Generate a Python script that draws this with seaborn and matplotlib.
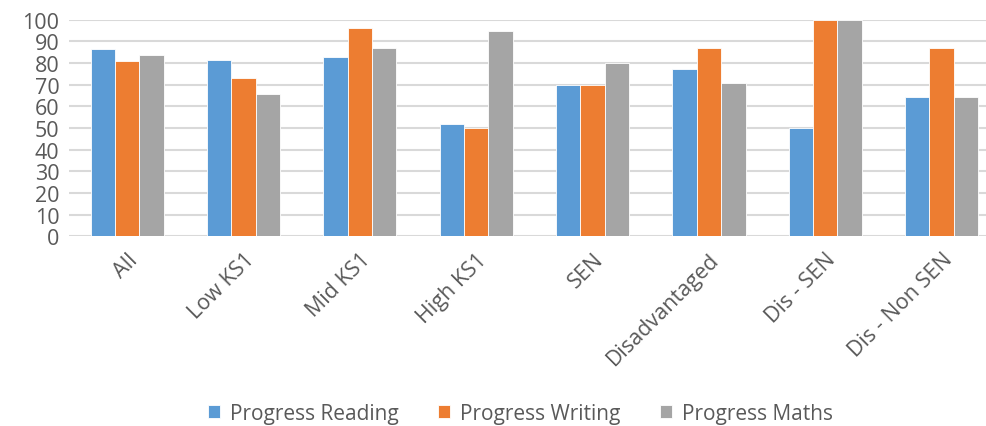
import matplotlib
matplotlib.use("Agg")
import matplotlib.pyplot as plt
import seaborn as sns
import pandas as pd

categories = ["All", "Low KS1", "Mid KS1", "High KS1", "SEN", "Disadvantaged", "Dis - SEN", "Dis - Non SEN"]
reading = [86.3, 81.2, 82.9, 51.7, 70.0, 77.3, 50.0, 64.3]
writing = [80.9, 73.2, 96.0, 50.0, 70.0, 87.1, 100.0, 87.1]
maths = [83.7, 65.7, 86.9, 94.9, 80.0, 70.8, 100.0, 64.3]
series_names = ["Progress Reading", "Progress Writing", "Progress Maths"]
colors = ["#5B9BD5", "#ED7D31", "#A5A5A5"]
yticks = [0, 10, 20, 30, 40, 50, 60, 70, 80, 90, 100]

rows = []
for name, vals in zip(series_names, [reading, writing, maths]):
    for c, v in zip(categories, vals):
        rows.append({"Category": c, "Series": name, "Value": v})
df = pd.DataFrame(rows)

sns.set_theme(style="white")
plt.rcParams["font.family"] = ["Open Sans", "DejaVu Sans"]

fig = plt.figure(figsize=(9.87, 4.27), dpi=100)
ax = fig.add_axes([0.0699, 0.4443, 0.943, 0.5073])

sns.barplot(data=df, x="Category", y="Value", hue="Series", order=categories,
            hue_order=series_names, palette=colors, width=0.63, ax=ax,
            saturation=1, edgecolor="white", linewidth=0.6, errorbar=None,
            legend=True)

ax.set_ylim(0, 100)
ax.set_xlim(-0.5, len(categories) - 0.5)
ax.set_yticks(yticks)
ax.set_yticklabels([str(t) for t in yticks])
ax.set_axisbelow(True)
ax.yaxis.grid(True, color="#D9D9D9", linewidth=1.5)
ax.xaxis.grid(False)
for s in ax.spines.values():
    s.set_visible(False)
ax.set_xlabel("")
ax.set_ylabel("")
ax.tick_params(axis="y", length=0, pad=7, labelsize=15.5, labelcolor="#595959")
ax.tick_params(axis="x", length=0, pad=9, labelsize=15.5, labelcolor="#595959")
plt.setp(ax.get_xticklabels(), rotation=45, ha="right", rotation_mode="anchor")

handles, labels = ax.get_legend_handles_labels()
ax.legend_.remove()
fig.legend(handles, labels, loc="center", bbox_to_anchor=(0.527, 0.03), ncol=3,
           frameon=False, fontsize=15, labelcolor="#595959", handlelength=0.6,
           handleheight=0.6, handletextpad=0.45, columnspacing=1.9)

fig.savefig("out.png", dpi=100)
